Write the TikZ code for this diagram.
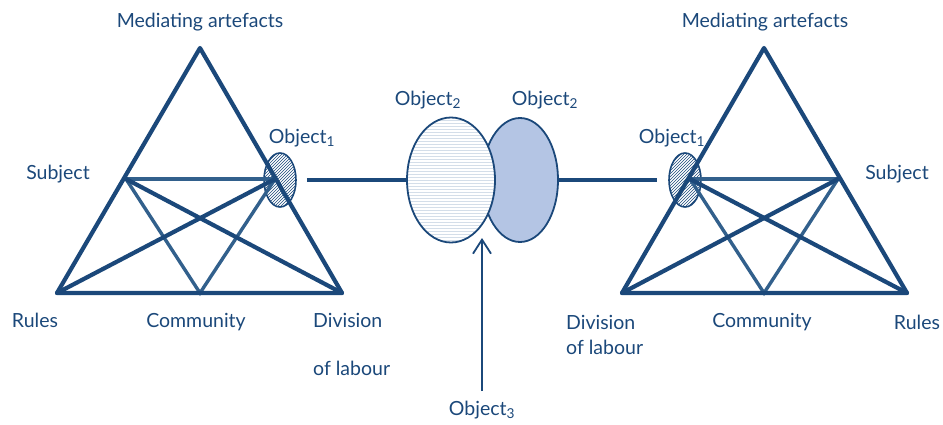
\documentclass[tikz,border=0pt]{standalone}
\usepackage{fontspec}
\setmainfont{Lato}
\usetikzlibrary{shapes.geometric,patterns,arrows.meta}
\definecolor{dkb}{RGB}{27,72,122}
\definecolor{mdb}{RGB}{50,96,140}
\definecolor{fillb}{RGB}{180,197,228}
\definecolor{hatchl}{RGB}{212,222,233}
\begin{document}
\begin{tikzpicture}[x=1pt,y=-1pt,
  lbl/.style={text=dkb,font=\fontsize{19.5}{22}\selectfont,inner sep=0pt},
  tri/.style={draw=dkb,line width=4.2pt,line join=round,line cap=round},
  inner/.style={draw=mdb,line width=3.4pt,line cap=round},
  conn/.style={draw=dkb,line width=3.4pt},
  smallobj/.style={ellipse,draw=dkb,line width=1.6pt,minimum width=32pt,minimum height=54pt,inner sep=0pt,pattern=north east lines,pattern color=dkb},
]
\useasboundingbox (0,0) rectangle (943,424);
% ---------- left triangle
\coordinate (LA) at (200,48);
\coordinate (LR) at (57,293);
\coordinate (LD) at (342,293);
\coordinate (LS) at (126,179);
\coordinate (LO) at (275,179);
\coordinate (LC) at (200,293);
\node[smallobj] (o1l) at (280,180) {};
\draw[inner] (LS) -- (LO);
\draw[inner] (LS) -- (LC) -- (LO);
\draw[tri] (LS) -- (LD);
\draw[tri] (LR) -- (LO);
\draw[tri] (LA) -- (LR) -- (LD) -- cycle;
% ---------- right triangle
\coordinate (RA) at (764,48);
\coordinate (RD) at (622,293);
\coordinate (RR) at (907,293);
\coordinate (RS) at (838,179);
\coordinate (RO) at (690,179);
\coordinate (RC) at (764,293);
\node[smallobj] (o1r) at (685,180) {};
\draw[inner] (RS) -- (RO);
\draw[inner] (RS) -- (RC) -- (RO);
\draw[tri] (RO) -- (RR);
\draw[tri] (RS) -- (RD);
\draw[tri] (RA) -- (RD) -- (RR) -- cycle;
% ---------- centre ellipses
\node[ellipse,draw=dkb,line width=1.8pt,fill=fillb,minimum width=76pt,minimum height=124pt,inner sep=0pt] (o2b) at (520,180) {};
\node[ellipse,draw=dkb,line width=1.8pt,preaction={fill=white},pattern=horizontal lines,pattern color=hatchl,minimum width=88pt,minimum height=125pt,inner sep=0pt] (o2a) at (451,180) {};
\draw[conn,shorten <=10pt] (o1l.east) -- (o2a.west);
\draw[conn,shorten >=11pt] (o2b.east) -- (o1r.west);
% ---------- Object3 arrow
\coordinate (meet) at (482,238);
\node[lbl] (o3) at (482,410) {Object\textsubscript{3}};
\draw[draw=dkb,line width=1.8pt,-{Straight Barb[length=14pt,width=18pt,line width=1.8pt]}] (482,391) -- (meet);
% ---------- labels left
\node[lbl] (lma) at (200,22) {Mediating artefacts};
\node[lbl] (lo1) at (302,138) {Object\textsubscript{1}};
\node[lbl] (lsu) at (58,174) {Subject};
\node[lbl] (lru) at (35,320) {Rules};
\node[lbl] (lco) at (196,322) {Community};
\node[lbl,anchor=west] (ldi) at (313,320) {Division};
\node[lbl,anchor=west] (ldl) at (313,368) {of labour};
% ---------- labels centre
\node[lbl] (o2al) at (428,100) {Object\textsubscript{2}};
\node[lbl] (o2bl) at (545,100) {Object\textsubscript{2}};
% ---------- labels right
\node[lbl] (rma) at (765,22) {Mediating artefacts};
\node[lbl] (ro1) at (672,138) {Object\textsubscript{1}};
\node[lbl] (rsu) at (897,174) {Subject};
\node[lbl,anchor=west] (rdi) at (566,322) {Division};
\node[lbl,anchor=west] (rdl) at (566,347) {of labour};
\node[lbl] (rco) at (762,322) {Community};
\node[lbl] (rru) at (917,322) {Rules};
\end{tikzpicture}
\end{document}
